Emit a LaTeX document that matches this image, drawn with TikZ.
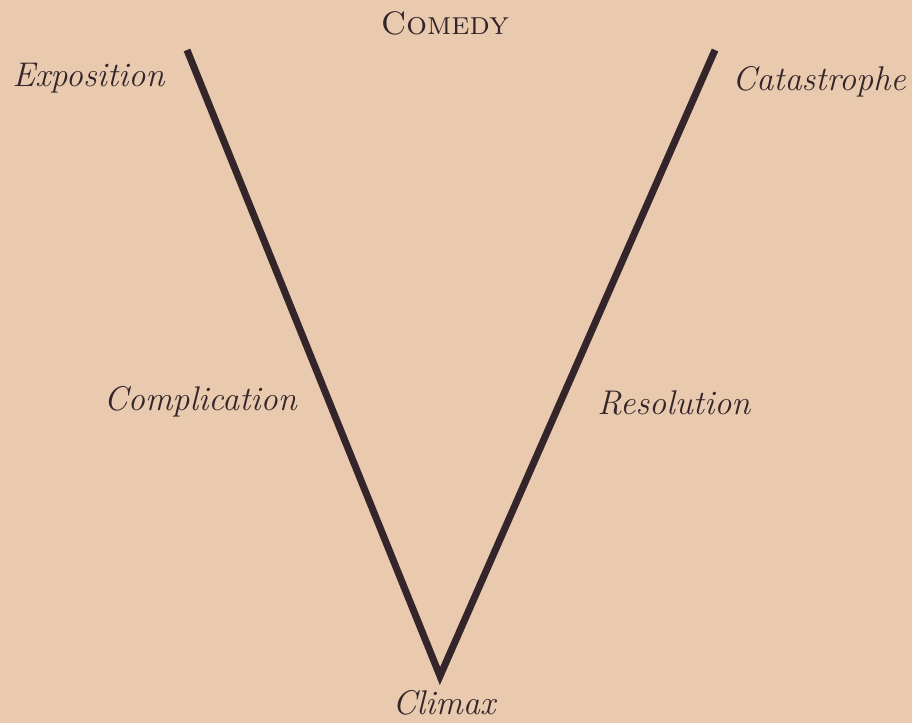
\documentclass[tikz,border=0pt]{standalone}
\usepackage{tikz}
\usetikzlibrary{positioning}
\definecolor{paper}{HTML}{E9CAAE}
\definecolor{ink}{HTML}{33252A}

\begin{document}
\begin{tikzpicture}[x=0.02cm,y=-0.02cm]
      % page, 912 x 723 px
      \fill[paper] (0,0) rectangle (912,723);
      \useasboundingbox (0,0) rectangle (912,723);
      % ends of the V
      \coordinate (expoend) at (187,50);
      \coordinate (climaxend) at (440,676);
      \coordinate (catasend) at (715,50);
      \draw[ink,line width=4pt,line join=miter] (expoend) -- (climaxend) -- (catasend);
      % labels
      \node[font=\fontsize{18.5}{20}\selectfont\scshape,color=ink] (comedy) at (445,23) {Comedy};
      \node[right,font=\fontsize{19.5}{22}\selectfont\itshape,color=ink,inner sep=0pt] (expo) at (12,78) {Exposition};
      \node[right,font=\fontsize{19.5}{22}\selectfont\itshape,color=ink,inner sep=0pt] (catas) at (732,82) {Catastrophe};
      \node[left,font=\fontsize{19.5}{22}\selectfont\itshape,color=ink,inner sep=0pt] (compl) at (297,402) {Complication};
      \node[right,font=\fontsize{19.5}{22}\selectfont\itshape,color=ink,inner sep=0pt] (resol) at (597,403) {Resolution};
      \node[font=\fontsize{19.5}{22}\selectfont\itshape,color=ink,inner sep=0pt] (climax) at (444,703) {Climax};
    \end{tikzpicture}
\end{document}
